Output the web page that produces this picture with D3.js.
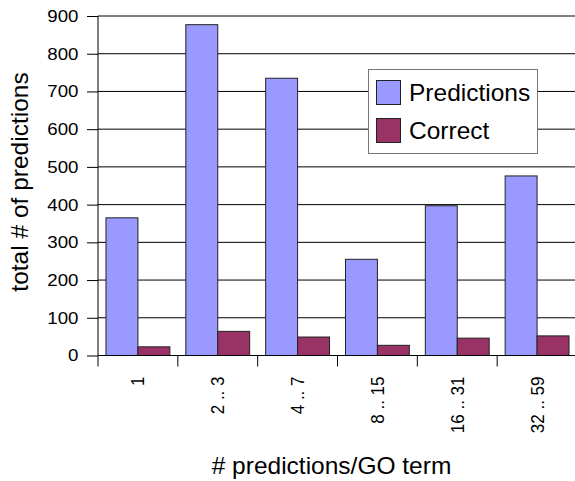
<!DOCTYPE html>
<html>
<head>
<meta charset="utf-8">
<script src="https://cdn.jsdelivr.net/npm/d3@7"></script>
<style>
  html, body { margin: 0; padding: 0; background: #fff; }
  svg { display: block; font-family: "Liberation Sans", Arial, sans-serif; }
</style>
</head>
<body>
<svg id="chart" width="575" height="481"></svg>
<script>
const categories = ["1", "2 .. 3", "4 .. 7", "8 .. 15", "16 .. 31", "32 .. 59"];
const predictions = [365, 877, 735, 255, 397, 476];
const correct = [23, 64, 49, 27, 46, 52];
const seriesNames = ["Predictions", "Correct"];
const seriesColors = ["#9999FF", "#993366"];
const yTicks = [0, 100, 200, 300, 400, 500, 600, 700, 800, 900];

(function () {
const svg = d3.select("#chart");
const pLeft = 98, pRight = 577, pTop = 16, pBottom = 355.5;

const x = d3.scaleBand().domain(categories).range([pLeft, pRight]).paddingInner(0).paddingOuter(0);
const inner = d3.scaleBand().domain(seriesNames).range([0, x.bandwidth()]).paddingInner(0).paddingOuter(0.25);
const y = d3.scaleLinear().domain([0, 900]).range([pBottom, pTop]);

// gridlines
svg.append("g").selectAll("line").data(yTicks.filter(d => d > 0)).join("line")
  .attr("x1", pLeft).attr("x2", 575)
  .attr("y1", d => y(d)).attr("y2", d => y(d))
  .attr("stroke", "#000").attr("stroke-width", 1);

// bars
const rows = categories.map((c, i) => ({ c, vals: [predictions[i], correct[i]] }));
const g = svg.append("g");
rows.forEach(r => {
  r.vals.forEach((v, k) => {
    g.append("rect")
      .attr("x", x(r.c) + inner(seriesNames[k]))
      .attr("y", y(v))
      .attr("width", inner.bandwidth())
      .attr("height", y(0) - y(v))
      .attr("fill", seriesColors[k])
      .attr("stroke", "#222").attr("stroke-width", 1);
  });
});

// y axis
const yAxis = d3.axisLeft(y).tickValues(yTicks).tickSize(11).tickPadding(8);
const ya = svg.append("g").attr("transform", `translate(${pLeft},0)`).call(yAxis);
ya.select(".domain").attr("stroke", "#000").attr("d", `M0,${pTop}V${pBottom}`);
ya.selectAll(".tick line").attr("stroke", "#000");
ya.selectAll(".tick text").attr("font-size", 17).attr("fill", "#000")
  .attr("font-family", "Liberation Sans, Arial, sans-serif")
  .attr("x", -19.5 / 1.1).attr("transform", "scale(1.1,1)");

// x axis
const xa = svg.append("g").attr("transform", `translate(0,${pBottom})`);
xa.append("line").attr("x1", pLeft).attr("x2", 575).attr("y1", 0).attr("y2", 0).attr("stroke", "#000");
const bounds = categories.map(c => x(c)).concat([pRight]);
xa.selectAll("line.tk").data(bounds).join("line").attr("class", "tk")
  .attr("x1", d => d).attr("x2", d => d).attr("y1", 0).attr("y2", 11).attr("stroke", "#000");
xa.selectAll("text").data(categories).join("text")
  .attr("transform", d => `translate(${x(d) + x.bandwidth() / 2 + 6.5},21) rotate(-90) scale(1,1.1)`)
  .attr("text-anchor", "end")
  .attr("font-size", 17).attr("fill", "#000")
  .text(d => d);

// axis titles
svg.append("text")
  .attr("transform", `translate(28,182) rotate(-90)`)
  .attr("text-anchor", "middle").attr("font-size", 24.5).attr("fill", "#000")
  .text("total # of predictions");
svg.append("text")
  .attr("x", 331.5).attr("y", 474)
  .attr("text-anchor", "middle").attr("font-size", 24.5).attr("fill", "#000")
  .text("# predictions/GO term");

// legend
const lg = svg.append("g");
lg.append("rect").attr("x", 368.5).attr("y", 69.5).attr("width", 169).attr("height", 84)
  .attr("fill", "#fff").attr("stroke", "#777").attr("stroke-width", 1);
seriesNames.forEach((n, k) => {
  lg.append("rect").attr("x", 376.5).attr("y", 80.5 + k * 38).attr("width", 24).attr("height", 24)
    .attr("fill", seriesColors[k]).attr("stroke", "#222");
  lg.append("text").attr("x", 409).attr("y", 100.5 + k * 38)
    .attr("font-size", 24.5).attr("fill", "#000").text(n);
});
})();
</script>
</body>
</html>
